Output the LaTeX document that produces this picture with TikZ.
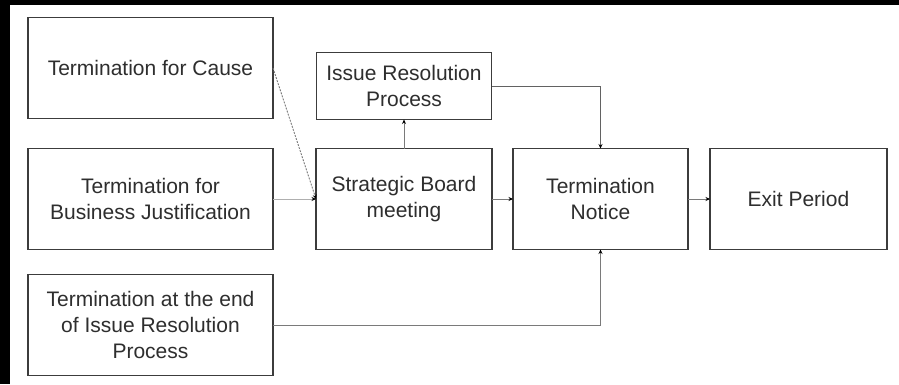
\documentclass[tikz,border=0pt]{standalone}
\usepackage{fontspec}
\setmainfont{Liberation Sans}
\usepackage{tikz}
\usetikzlibrary{positioning,arrows.meta}
\definecolor{boxline}{HTML}{3C3C3C}
\definecolor{boxtext}{HTML}{2E2E2E}
\definecolor{flowline}{HTML}{7A7A7A}

\begin{document}
\begin{tikzpicture}[
    x=1pt, y=-1pt,
    stagebox/.style={rectangle, draw=boxline, line width=1.8pt, fill=white, text=boxtext,
        align=center, inner sep=0pt, outer sep=0pt, minimum height=101pt,
        font=\fontsize{21}{26}\selectfont},
    flow/.style={draw=flowline, line width=0.9pt, -{Stealth[black, length=4.5pt, width=4pt]}}
    ]
        %Frame
        \useasboundingbox (0,0) rectangle (899,384);
        \fill[black] (0,0) rectangle (899,5);
        \fill[black] (0,0) rectangle (10,384);

        %Nodes
        \node[stagebox, minimum width=245pt]
            (cause)     at (150.5,68)           {Termination for Cause};
        \node[stagebox, minimum width=245pt]
            (business)  [below=30pt of cause]   {Termination for\\Business Justification};
        \node[stagebox, minimum width=245pt]
            (issueend)  [below=25pt of business] {Termination at the end\\of Issue Resolution\\Process};
        \node[stagebox, minimum width=176pt]
            (board)     [right=43pt of business] {Strategic Board\\meeting};
        \node[stagebox, minimum width=175pt, minimum height=67pt]
            (resolution) [above=29pt of board]  {Issue Resolution\\Process};
        \node[stagebox, minimum width=175pt]
            (notice)    [right=21pt of board]   {Termination\\Notice};
        \node[stagebox, minimum width=177pt]
            (exit)      [right=22pt of notice]  {Exit Period};

        %Lines
        \draw[flow, dash pattern=on 2pt off 1.2pt]
            (cause.east) -- (board.west);
        \draw[flow, draw=flowline!60]
            (business.east) -- (board.west);
        \draw[flow]
            (board.north) -- (resolution.south);
        \draw[flow, draw=flowline!80!black]
            (resolution.east) -| (notice.north);
        \draw[flow]
            (board.east) -- (notice.west);
        \draw[flow]
            (notice.east) -- (exit.west);
        \draw[flow]
            (issueend.east) -| (notice.south);
    \end{tikzpicture}
\end{document}
